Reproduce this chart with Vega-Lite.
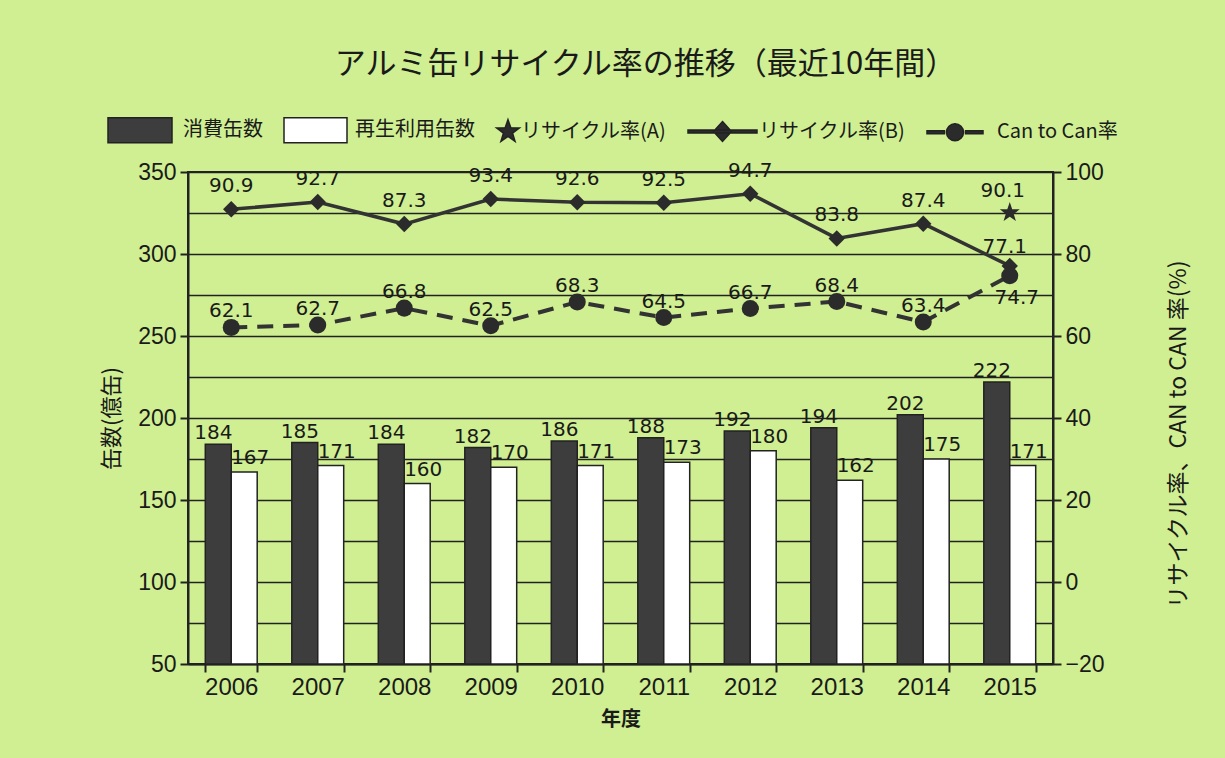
{
  "$schema": "https://vega.github.io/schema/vega-lite/v6.json",
  "width": 865,
  "height": 492,
  "autosize": {"type": "none"},
  "padding": {"left": 188, "top": 172, "right": 172, "bottom": 94},
  "background": "#cfef92",
  "title": {
    "text": "アルミ缶リサイクル率の推移（最近10年間）",
    "font": "Noto Sans CJK JP",
    "fontSize": 31,
    "fontWeight": "normal",
    "color": "#1a1a1a",
    "anchor": "middle",
    "frame": "group",
    "offset": 38,
    "dx": 25
  },
  "config": {
    "view": {"stroke": "#222222", "strokeWidth": 2},
    "font": "Liberation Sans",
    "axis": {
      "domainColor": "#222222",
      "domainWidth": 2,
      "tickColor": "#222222",
      "tickWidth": 2,
      "tickSize": 8,
      "labelColor": "#1a1a1a",
      "labelFontSize": 23,
      "labelFont": "Liberation Sans",
      "titleColor": "#1a1a1a",
      "titleFont": "Noto Sans CJK JP",
      "titleFontWeight": "normal",
      "grid": false
    }
  },
  "datasets": {
    "counts": [
      {"year": "2006", "series": "消費缶数", "value": 184},
      {"year": "2006", "series": "再生利用缶数", "value": 167},
      {"year": "2007", "series": "消費缶数", "value": 185},
      {"year": "2007", "series": "再生利用缶数", "value": 171},
      {"year": "2008", "series": "消費缶数", "value": 184},
      {"year": "2008", "series": "再生利用缶数", "value": 160},
      {"year": "2009", "series": "消費缶数", "value": 182},
      {"year": "2009", "series": "再生利用缶数", "value": 170},
      {"year": "2010", "series": "消費缶数", "value": 186},
      {"year": "2010", "series": "再生利用缶数", "value": 171},
      {"year": "2011", "series": "消費缶数", "value": 188},
      {"year": "2011", "series": "再生利用缶数", "value": 173},
      {"year": "2012", "series": "消費缶数", "value": 192},
      {"year": "2012", "series": "再生利用缶数", "value": 180},
      {"year": "2013", "series": "消費缶数", "value": 194},
      {"year": "2013", "series": "再生利用缶数", "value": 162},
      {"year": "2014", "series": "消費缶数", "value": 202},
      {"year": "2014", "series": "再生利用缶数", "value": 175},
      {"year": "2015", "series": "消費缶数", "value": 222},
      {"year": "2015", "series": "再生利用缶数", "value": 171}
    ],
    "rates": [
      {"year": "2006", "B": 90.9, "C": 62.1, "A": null},
      {"year": "2007", "B": 92.7, "C": 62.7, "A": null},
      {"year": "2008", "B": 87.3, "C": 66.8, "A": null},
      {"year": "2009", "B": 93.4, "C": 62.5, "A": null},
      {"year": "2010", "B": 92.6, "C": 68.3, "A": null},
      {"year": "2011", "B": 92.5, "C": 64.5, "A": null},
      {"year": "2012", "B": 94.7, "C": 66.7, "A": null},
      {"year": "2013", "B": 83.8, "C": 68.4, "A": null},
      {"year": "2014", "B": 87.4, "C": 63.4, "A": null},
      {"year": "2015", "B": 77.1, "C": 74.7, "A": 90.1}
    ],
    "legendItems": [
      {"series": "消費缶数"},
      {"series": "再生利用缶数"},
      {"series": "リサイクル率(A)"},
      {"series": "リサイクル率(B)"},
      {"series": "Can to Can率"}
    ]
  },
  "encoding": {
    "x": {
      "field": "year",
      "type": "nominal",
      "scale": {"paddingInner": 0.4, "paddingOuter": 0.2},
      "axis": {
        "orient": "bottom",
        "labelAngle": 0,
        "labelFontSize": 24,
        "tickBand": "extent",
        "labelPadding": 3,
        "title": "年度",
        "titleFontSize": 20,
        "titleFontWeight": "bold",
        "titlePadding": 10
      }
    }
  },
  "layer": [
    {
      "data": {"name": "counts"},
      "encoding": {
        "y": {
          "field": "value",
          "type": "quantitative",
          "scale": {"domain": [50, 350], "nice": false, "zero": false},
          "axis": {
            "orient": "left",
            "values": [50, 75, 100, 125, 150, 175, 200, 225, 250, 275, 300, 325, 350],
            "grid": true,
            "gridColor": "#222222",
            "gridWidth": 1.5,
            "labelExpr": "datum.value % 50 === 0 ? datum.label : ''",
            "tickOpacity": {"condition": {"test": "datum.value % 50 === 0", "value": 1}, "value": 0},
            "labelPadding": 4,
            "title": "缶数(億缶)",
            "titleFontSize": 22,
            "titlePadding": 14
          }
        },
        "xOffset": {
          "field": "series",
          "type": "nominal",
          "scale": {"domain": ["消費缶数", "再生利用缶数"], "paddingInner": 0, "paddingOuter": 0}
        }
      },
      "layer": [
        {
          "mark": {"type": "bar", "stroke": "#222222", "strokeWidth": 1.5},
          "encoding": {
            "y2": {"datum": 50},
            "fill": {
              "field": "series",
              "type": "nominal",
              "scale": {
                "domain": ["消費缶数", "再生利用缶数", "リサイクル率(A)", "リサイクル率(B)", "Can to Can率"],
                "range": ["#3d3d3d", "#ffffff", "#2b2b2b", "#2b2b2b", "#2b2b2b"]
              },
              "legend": {
                "title": null,
                "orient": "none",
                "legendX": -29,
                "legendY": -53,
                "direction": "horizontal",
                "columns": 5,
                "symbolSize": 400,
                "labelFontSize": 20,
                "labelFont": "Noto Sans CJK JP",
                "labelColor": "#1a1a1a",
                "labelOffset": 2,
                "labelLimit": 300,
                "columnPadding": 18,
                "symbolStrokeColor": "#222222",
                "symbolStrokeWidth": 1.5,
                "symbolOpacity": 1
              }
            }
          }
        },
        {
          "transform": [{"filter": "datum.series === '消費缶数'"}],
          "mark": {"type": "text", "baseline": "bottom", "dx": -5, "dy": -1, "font": "DejaVu Sans", "fontSize": 20, "color": "#1a1a1a"},
          "encoding": {"text": {"field": "value", "type": "quantitative"}}
        },
        {
          "transform": [{"filter": "datum.series === '再生利用缶数'"}],
          "mark": {"type": "text", "baseline": "bottom", "dx": 6, "dy": -4, "font": "DejaVu Sans", "fontSize": 20, "color": "#1a1a1a"},
          "encoding": {"text": {"field": "value", "type": "quantitative"}}
        }
      ]
    },
    {
      "data": {"name": "rates"},
      "layer": [
        {
          "mark": {"type": "line", "color": "#333333", "strokeWidth": 3.5},
          "encoding": {
            "y": {
              "field": "B",
              "type": "quantitative",
              "scale": {"domain": [-20, 100], "nice": false, "zero": false},
              "axis": {
                "orient": "right",
                "values": [-20, 0, 20, 40, 60, 80, 100],
                "labelPadding": 4,
                "title": "リサイクル率、CAN to CAN 率(%)",
                "titleAngle": 270,
                "titleFontSize": 23,
                "titlePadding": 86,
                "titleY": 262
              }
            }
          }
        },
        {
          "mark": {"type": "point", "shape": "diamond", "filled": true, "size": 270, "color": "#2b2b2b", "opacity": 1},
          "encoding": {"y": {"field": "B", "type": "quantitative"}}
        },
        {
          "mark": {"type": "line", "color": "#333333", "strokeWidth": 4, "strokeDash": [16, 10]},
          "encoding": {"y": {"field": "C", "type": "quantitative"}}
        },
        {
          "mark": {"type": "point", "shape": "circle", "filled": true, "size": 290, "color": "#2b2b2b", "opacity": 1},
          "encoding": {"y": {"field": "C", "type": "quantitative"}}
        },
        {
          "transform": [{"filter": "isValid(datum.A)"}],
          "mark": {
            "type": "point",
            "shape": "M0,-1 L0.235,-0.324 L0.951,-0.309 L0.38,0.124 L0.588,0.809 L0,0.4 L-0.588,0.809 L-0.38,0.124 L-0.951,-0.309 L-0.235,-0.324 Z",
            "filled": true,
            "size": 440,
            "color": "#2b2b2b",
            "opacity": 1
          },
          "encoding": {"y": {"field": "A", "type": "quantitative"}}
        },
        {
          "transform": [{"filter": "datum.year !== '2015'"}],
          "mark": {"type": "text", "baseline": "bottom", "dy": -13, "font": "DejaVu Sans", "fontSize": 20, "color": "#1a1a1a"},
          "encoding": {"y": {"field": "B", "type": "quantitative"}, "text": {"field": "B", "type": "quantitative", "format": ".1f"}}
        },
        {
          "transform": [{"filter": "datum.year === '2015'"}],
          "mark": {"type": "text", "baseline": "bottom", "dx": -5, "dy": -9, "font": "DejaVu Sans", "fontSize": 20, "color": "#1a1a1a"},
          "encoding": {"y": {"field": "B", "type": "quantitative"}, "text": {"field": "B", "type": "quantitative", "format": ".1f"}}
        },
        {
          "transform": [{"filter": "datum.year !== '2015'"}],
          "mark": {"type": "text", "baseline": "bottom", "dy": -6, "font": "DejaVu Sans", "fontSize": 20, "color": "#1a1a1a"},
          "encoding": {"y": {"field": "C", "type": "quantitative"}, "text": {"field": "C", "type": "quantitative", "format": ".1f"}}
        },
        {
          "transform": [{"filter": "datum.year === '2015'"}],
          "mark": {"type": "text", "baseline": "middle", "dx": 7, "dy": 22, "font": "DejaVu Sans", "fontSize": 20, "color": "#1a1a1a"},
          "encoding": {"y": {"field": "C", "type": "quantitative"}, "text": {"field": "C", "type": "quantitative", "format": ".1f"}}
        },
        {
          "transform": [{"filter": "isValid(datum.A)"}],
          "mark": {"type": "text", "baseline": "bottom", "dx": -7, "dy": -12, "font": "DejaVu Sans", "fontSize": 20, "color": "#1a1a1a"},
          "encoding": {"y": {"field": "A", "type": "quantitative"}, "text": {"field": "A", "type": "quantitative", "format": ".1f"}}
        },
        {
          "data": {"name": "legendItems"},
          "transform": [{"filter": "false"}],
          "mark": {"type": "point", "filled": true, "strokeWidth": 1.5, "opacity": 1},
          "encoding": {
            "fill": {
              "field": "series",
              "type": "nominal",
              "scale": {
                "domain": ["消費缶数", "再生利用缶数", "リサイクル率(A)", "リサイクル率(B)", "Can to Can率"],
                "range": ["#3d3d3d", "#ffffff", "#2b2b2b", "#2b2b2b", "#2b2b2b"]
              },
              "legend": {
                "title": null,
                "orient": "none",
                "legendX": -29,
                "legendY": -53,
                "direction": "horizontal",
                "columns": 5,
                "symbolSize": 400,
                "labelFontSize": 20,
                "labelFont": "Noto Sans CJK JP",
                "labelColor": "#1a1a1a",
                "labelOffset": 2,
                "labelLimit": 300,
                "columnPadding": 18,
                "symbolStrokeColor": "#222222",
                "symbolStrokeWidth": 1.5,
                "symbolOpacity": 1
              }
            },
            "stroke": {
              "field": "series",
              "type": "nominal",
              "scale": {
                "domain": ["消費缶数", "再生利用缶数", "リサイクル率(A)", "リサイクル率(B)", "Can to Can率"],
                "range": ["#222222", "#222222", "#222222", "#222222", "#222222"]
              },
              "legend": {
                "title": null,
                "orient": "none",
                "legendX": -29,
                "legendY": -53,
                "direction": "horizontal",
                "columns": 5,
                "symbolSize": 400,
                "labelFontSize": 20,
                "labelFont": "Noto Sans CJK JP",
                "labelColor": "#1a1a1a",
                "labelOffset": 2,
                "labelLimit": 300,
                "columnPadding": 18,
                "symbolStrokeColor": "#222222",
                "symbolStrokeWidth": 1.5,
                "symbolOpacity": 1
              }
            },
            "shape": {
              "field": "series",
              "type": "nominal",
              "scale": {
                "domain": ["消費缶数", "再生利用缶数", "リサイクル率(A)", "リサイクル率(B)", "Can to Can率"],
                "range": [
                  "M-6.2,-1.25 H0.2 V1.25 H-6.2 Z",
                  "M-5.8,-1.25 H0.5 V1.25 H-5.8 Z",
                  "M0,-1.2 L0.282,-0.389 L1.141,-0.371 L0.456,0.149 L0.706,0.971 L0,0.48 L-0.706,0.971 L-0.456,0.149 L-1.141,-0.371 L-0.282,-0.389 Z",
                  "M-5.8,-0.15 H1.1 V0.15 H-5.8 Z M-2.35,-1 L-1.45,0 L-2.35,1 L-3.25,0 Z",
                  "M-5.7,-0.15 H-3.95 V0.15 H-5.7 Z M-1.85,-0.15 H-0.1 V0.15 H-1.85 Z M-2.05,0 A0.85,0.85 0 1,1 -3.75,0 A0.85,0.85 0 1,1 -2.05,0 Z"
                ]
              },
              "legend": {
                "title": null,
                "orient": "none",
                "legendX": -29,
                "legendY": -53,
                "direction": "horizontal",
                "columns": 5,
                "symbolSize": 400,
                "labelFontSize": 20,
                "labelFont": "Noto Sans CJK JP",
                "labelColor": "#1a1a1a",
                "labelOffset": 2,
                "labelLimit": 300,
                "columnPadding": 18,
                "symbolStrokeColor": "#222222",
                "symbolStrokeWidth": 1.5,
                "symbolOpacity": 1
              }
            }
          }
        }
      ]
    }
  ],
  "resolve": {"scale": {"y": "independent"}}
}
